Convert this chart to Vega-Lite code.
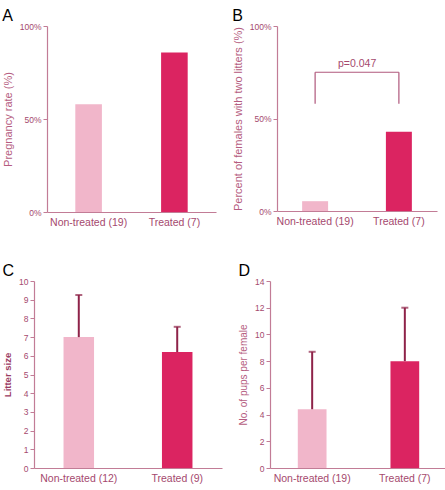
{
  "$schema": "https://vega.github.io/schema/vega-lite/v6.json",
  "padding": {"left": 1, "top": 8, "right": 0, "bottom": 0},
  "spacing": 35,
  "datasets": {
    "pregnancy": [
      {"group": "Non-treated (19)", "arm": "Non-treated", "rate": 57.9},
      {"group": "Treated (7)", "arm": "Treated", "rate": 85.7}
    ],
    "twoLitters": [
      {"group": "Non-treated (19)", "arm": "Non-treated", "rate": 5.3},
      {"group": "Treated (7)", "arm": "Treated", "rate": 42.9}
    ],
    "bracketLegs": [
      {"group": "Non-treated (19)", "low": 58, "high": 75},
      {"group": "Treated (7)", "low": 58, "high": 75}
    ],
    "bracketTop": [
      {"from": "Non-treated (19)", "to": "Treated (7)", "level": 75, "label": "p=0.047", "labelLevel": 76.5}
    ],
    "litterSize": [
      {"group": "Non-treated (12)", "arm": "Non-treated", "mean": 7.0, "upper": 9.25},
      {"group": "Treated (9)", "arm": "Treated", "mean": 6.2, "upper": 7.55}
    ],
    "pups": [
      {"group": "Non-treated (19)", "arm": "Non-treated", "mean": 4.4, "upper": 8.7},
      {"group": "Treated (7)", "arm": "Treated", "mean": 8.0, "upper": 12.0}
    ],
    "none": []
  },
  "vconcat": [
    {
      "spacing": 0,
      "hconcat": [
        {"width": 1, "height": 1, "data": {"name": "none"}, "mark": "point"},
        {
          "spacing": 16,
          "hconcat": [
            {
              "title": {"text": "A"},
              "width": 169,
              "height": 186,
              "data": {"name": "pregnancy"},
              "mark": {"type": "bar"},
              "encoding": {
                "x": {"field": "group", "type": "nominal", "sort": null,
                      "scale": {"paddingInner": 0.69, "paddingOuter": 0.33}},
                "y": {"field": "rate", "type": "quantitative", "scale": {"domain": [0, 100]},
                      "axis": {"title": "Pregnancy rate (%)", "values": [0, 50, 100], "labelExpr": "datum.value + '%'"}},
                "color": {"field": "arm", "type": "nominal", "scale": {"domain": ["Non-treated", "Treated"], "range": ["#f1b6ca", "#db2461"]}, "legend": null}
              }
            },
            {
              "title": {"text": "B"},
              "width": 160,
              "height": 185,
              "layer": [
                {
                  "data": {"name": "twoLitters"},
                  "mark": {"type": "bar"},
                  "encoding": {
                    "x": {"field": "group", "type": "nominal", "sort": null,
                          "scale": {"paddingInner": 0.69, "paddingOuter": 0.3}},
                    "y": {"field": "rate", "type": "quantitative", "scale": {"domain": [0, 100]},
                          "axis": {"title": "Percent of females with two litters  (%)", "values": [0, 50, 100], "labelExpr": "datum.value + '%'"}},
                    "color": {"field": "arm", "type": "nominal", "scale": {"domain": ["Non-treated", "Treated"], "range": ["#f1b6ca", "#db2461"]}, "legend": null}
                  }
                },
                {
                  "data": {"name": "bracketLegs"},
                  "mark": {"type": "rule", "color": "#b0587c", "strokeWidth": 1.2},
                  "encoding": {
                    "x": {"field": "group", "type": "nominal", "sort": null},
                    "y": {"field": "low", "type": "quantitative"},
                    "y2": {"field": "high"}
                  }
                },
                {
                  "data": {"name": "bracketTop"},
                  "mark": {"type": "rule", "color": "#b0587c", "strokeWidth": 1.2},
                  "encoding": {
                    "x": {"field": "from", "type": "nominal", "sort": null, "bandPosition": 0.5},
                    "x2": {"field": "to", "bandPosition": 0.5},
                    "y": {"field": "level", "type": "quantitative"}
                  }
                },
                {
                  "data": {"name": "bracketTop"},
                  "mark": {"type": "text", "color": "#a5496e", "fontSize": 10.5, "dx": 42, "baseline": "bottom"},
                  "encoding": {
                    "x": {"field": "from", "type": "nominal", "sort": null},
                    "y": {"field": "labelLevel", "type": "quantitative"},
                    "text": {"field": "label"}
                  }
                }
              ]
            }
          ]
        }
      ]
    },
    {
      "spacing": 0,
      "hconcat": [
        {"width": 1, "height": 1, "data": {"name": "none"}, "mark": "point"},
        {
          "spacing": 16,
          "hconcat": [
            {
              "title": {"text": "C"},
              "width": 188,
              "height": 187,
              "data": {"name": "litterSize"},
              "layer": [
                {
                  "mark": {"type": "bar"},
                  "encoding": {
                    "x": {"field": "group", "type": "nominal", "sort": null,
                          "scale": {"paddingInner": 0.69, "paddingOuter": 0.3}},
                    "y": {"field": "mean", "type": "quantitative", "scale": {"domain": [0, 10]},
                          "axis": {"title": "Litter size", "values": [0, 1, 2, 3, 4, 5, 6, 7, 8, 9, 10], "labelOverlap": false, "titlePadding": 6,
                                   "titleColor": "#9a3a62", "titleFontWeight": "bold", "titleFontSize": 9.5}},
                    "color": {"field": "arm", "type": "nominal", "scale": {"domain": ["Non-treated", "Treated"], "range": ["#f1b6ca", "#db2461"]}, "legend": null}
                  }
                },
                {
                  "mark": {"type": "rule", "color": "#8e2349", "strokeWidth": 2},
                  "encoding": {
                    "x": {"field": "group", "type": "nominal", "sort": null},
                    "y": {"field": "mean", "type": "quantitative",
                          "axis": {"title": "Litter size", "values": [0, 1, 2, 3, 4, 5, 6, 7, 8, 9, 10], "labelOverlap": false, "titlePadding": 6,
                                   "titleColor": "#9a3a62", "titleFontWeight": "bold", "titleFontSize": 9.5}},
                    "y2": {"field": "upper"}
                  }
                },
                {
                  "mark": {"type": "tick", "color": "#8e2349", "thickness": 2, "size": 7},
                  "encoding": {
                    "x": {"field": "group", "type": "nominal", "sort": null},
                    "y": {"field": "upper", "type": "quantitative",
                          "axis": {"title": "Litter size", "values": [0, 1, 2, 3, 4, 5, 6, 7, 8, 9, 10], "labelOverlap": false, "titlePadding": 6,
                                   "titleColor": "#9a3a62", "titleFontWeight": "bold", "titleFontSize": 9.5}}
                  }
                }
              ]
            },
            {
              "title": {"text": "D"},
              "width": 177,
              "height": 187,
              "data": {"name": "pups"},
              "layer": [
                {
                  "mark": {"type": "bar"},
                  "encoding": {
                    "x": {"field": "group", "type": "nominal", "sort": null,
                          "scale": {"paddingInner": 0.69, "paddingOuter": 0.3}},
                    "y": {"field": "mean", "type": "quantitative", "scale": {"domain": [0, 14]},
                          "axis": {"title": "No. of pups per female", "values": [0, 2, 4, 6, 8, 10, 12, 14], "labelOverlap": false, "titleFontSize": 10}},
                    "color": {"field": "arm", "type": "nominal", "scale": {"domain": ["Non-treated", "Treated"], "range": ["#f1b6ca", "#db2461"]}, "legend": null}
                  }
                },
                {
                  "mark": {"type": "rule", "color": "#8e2349", "strokeWidth": 2},
                  "encoding": {
                    "x": {"field": "group", "type": "nominal", "sort": null},
                    "y": {"field": "mean", "type": "quantitative",
                          "axis": {"title": "No. of pups per female", "values": [0, 2, 4, 6, 8, 10, 12, 14], "labelOverlap": false, "titleFontSize": 10}},
                    "y2": {"field": "upper"}
                  }
                },
                {
                  "mark": {"type": "tick", "color": "#8e2349", "thickness": 2, "size": 7},
                  "encoding": {
                    "x": {"field": "group", "type": "nominal", "sort": null},
                    "y": {"field": "upper", "type": "quantitative",
                          "axis": {"title": "No. of pups per female", "values": [0, 2, 4, 6, 8, 10, 12, 14], "labelOverlap": false, "titleFontSize": 10}}
                  }
                }
              ]
            }
          ]
        }
      ]
    }
  ],
  "config": {
    "font": "Liberation Sans",
    "view": {"stroke": null},
    "axis": {
      "grid": false,
      "labelOverlap": false,
      "domainColor": "#c27c96",
      "domainWidth": 1.2,
      "tickColor": "#c27c96",
      "tickSize": 4,
      "labelColor": "#a5496e",
      "labelFont": "Liberation Sans",
      "labelFontSize": 8.5,
      "titleColor": "#b55c80",
      "titleFont": "Liberation Sans",
      "titleFontSize": 11,
      "titleFontWeight": "normal",
      "titlePadding": 6
    },
    "axisX": {"ticks": false, "labelAngle": 0, "labelFontSize": 10.5, "labelPadding": 5, "title": null},
    "title": {"font": "Liberation Sans", "fontSize": 16, "fontWeight": "normal", "color": "#000000", "anchor": "start", "offset": -2}
  }
}
